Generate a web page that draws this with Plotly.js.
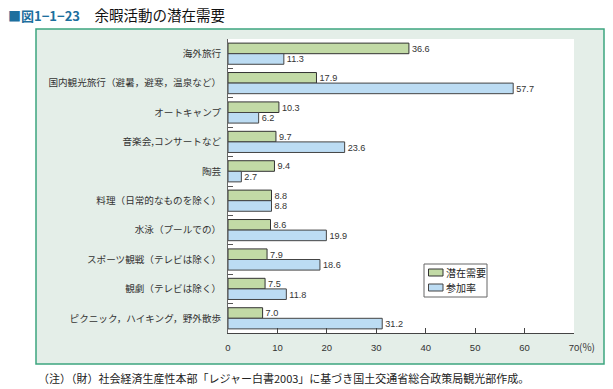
<!DOCTYPE html>
<html>
<head>
<meta charset="utf-8">
<script src="https://cdn.plot.ly/plotly-3.0.1.min.js"></script>
<style>html,body{margin:0;padding:0;background:#fff;}#chart{width:613px;height:389px;}</style>
</head>
<body>
<div id="chart"></div>
<script>
const categories = [
  "海外旅行",
  "国内観光旅行（避暑，避寒，温泉など）",
  "オートキャンプ",
  "音楽会,コンサートなど",
  "陶芸",
  "料理（日常的なものを除く）",
  "水泳（プールでの）",
  "スポーツ観戦（テレビは除く）",
  "観劇（テレビは除く）",
  "ピクニック，ハイキング，野外散歩"
];
const seriesNames = ["潜在需要", "参加率"];
const potentialDemand = [36.6, 17.9, 10.3, 9.7, 9.4, 8.8, 8.6, 7.9, 7.5, 7.0];
const participationRate = [11.3, 57.7, 6.2, 23.6, 2.7, 8.8, 19.9, 18.6, 11.8, 31.2];
const xTickVals = [0, 10, 20, 30, 40, 50, 60, 70];
const xTickText = ["0", "10", "20", "30", "40", "50", "60", "70"];
const seriesColors = ["#c2daa6", "#bcdcf3"];

const JP = "'Noto Sans CJK JP', 'Liberation Sans', sans-serif";
const NUM = "'Liberation Sans', 'Noto Sans CJK JP', sans-serif";

const traces = [
  {
    type: "bar", orientation: "h", name: seriesNames[0],
    y: categories, x: potentialDemand,
    marker: {color: seriesColors[0], line: {color: "#333333", width: 1}},
    text: potentialDemand.map(v => v.toFixed(1)), textposition: "outside",
    textfont: {family: NUM, size: 9.5, color: "#333"}, cliponaxis: false,
    hoverinfo: "none"
  },
  {
    type: "bar", orientation: "h", name: seriesNames[1],
    y: categories, x: participationRate,
    marker: {color: seriesColors[1], line: {color: "#444444", width: 1}},
    text: participationRate.map(v => v.toFixed(1)), textposition: "outside",
    textfont: {family: NUM, size: 9.5, color: "#333"}, cliponaxis: false,
    hoverinfo: "none"
  }
];

const L = 228, R = 574, T = 39, B = 333, W = 613, H = 389;
const px = x => (x - L) / (R - L);
const py = y => (B - y) / (B - T);

// manual legend (box + swatches + labels)
const legendShapes = [
  {type: "rect", xref: "paper", yref: "paper", layer: "above",
   x0: px(424), x1: px(487), y0: py(297), y1: py(264),
   fillcolor: "#ffffff", line: {color: "#666666", width: 1}},
  {type: "rect", xref: "paper", yref: "paper", layer: "above",
   x0: px(428.5), x1: px(443), y0: py(276), y1: py(269),
   fillcolor: seriesColors[0], line: {color: "#333", width: 1}},
  {type: "rect", xref: "paper", yref: "paper", layer: "above",
   x0: px(428.5), x1: px(443), y0: py(291), y1: py(284),
   fillcolor: seriesColors[1], line: {color: "#444", width: 1}}
];
const legendLabels = [
  {xref: "paper", yref: "paper", x: px(444), y: py(272.5), xanchor: "left", yanchor: "middle",
   showarrow: false, text: seriesNames[0], font: {family: JP, size: 10, color: "#222"}},
  {xref: "paper", yref: "paper", x: px(444), y: py(287.5), xanchor: "left", yanchor: "middle",
   showarrow: false, text: seriesNames[1], font: {family: JP, size: 10, color: "#222"}}
];

const layout = {
  width: W, height: H,
  margin: {l: L, r: W - R, t: T, b: H - B, pad: 0},
  paper_bgcolor: "#ffffff",
  plot_bgcolor: "rgba(0,0,0,0)",
  barmode: "group",
  bargap: 0.28,
  bargroupgap: 0,
  showlegend: false,
  xaxis: {
    range: [0, 70], tickvals: xTickVals, ticktext: xTickText,
    ticks: "inside", ticklen: 5, tickcolor: "#444",
    showline: true, linecolor: "#444", linewidth: 1,
    showgrid: false, zeroline: false,
    tickfont: {family: NUM, size: 9.5, color: "#333"},
    ticklabelstandoff: 6,
    fixedrange: true
  },
  yaxis: {
    autorange: "reversed", type: "category",
    ticks: "inside", ticklen: 5, tickcolor: "#555", tickson: "boundaries",
    showline: true, linecolor: "#666", linewidth: 1,
    showgrid: false, zeroline: false,
    tickfont: {family: JP, size: 9.6, color: "#333"},
    ticklabelstandoff: 4,
    fixedrange: true
  },
  shapes: [
    {type: "rect", xref: "paper", yref: "paper", layer: "below",
     x0: px(36), x1: px(604), y0: py(364), y1: py(29),
     fillcolor: "#e4eee8", line: {color: "#3da57f", width: 1.5}},
    {type: "rect", xref: "paper", yref: "paper", layer: "below",
     x0: 0, x1: 1, y0: 0, y1: 1,
     fillcolor: "#ffffff", line: {width: 0}}
  ].concat(legendShapes),
  annotations: [
    {xref: "paper", yref: "paper", x: px(6), y: py(14), xanchor: "left", yanchor: "middle",
     showarrow: false,
     text: "<span style='color:#1d6f9e;font-size:13px'><b>■図1−1−23</b></span>　余暇活動の潜在需要",
     font: {family: JP, size: 14.5, color: "#111"}},
    {xref: "paper", yref: "paper", x: px(36), y: py(378), xanchor: "left", yanchor: "middle",
     showarrow: false,
     text: "（注）（財）社会経済生産性本部「レジャー白書2003」に基づき国土交通省総合政策局観光部作成。",
     font: {family: JP, size: 11, color: "#222"}},
    {xref: "x", yref: "paper", x: 70, y: py(346.5), xanchor: "left", yanchor: "middle",
     xshift: 3, showarrow: false, text: "(%)",
     font: {family: JP, size: 10, color: "#333"}}
  ].concat(legendLabels)
};

Plotly.newPlot("chart", traces, layout, {staticPlot: true, displayModeBar: false});
</script>
</body>
</html>
